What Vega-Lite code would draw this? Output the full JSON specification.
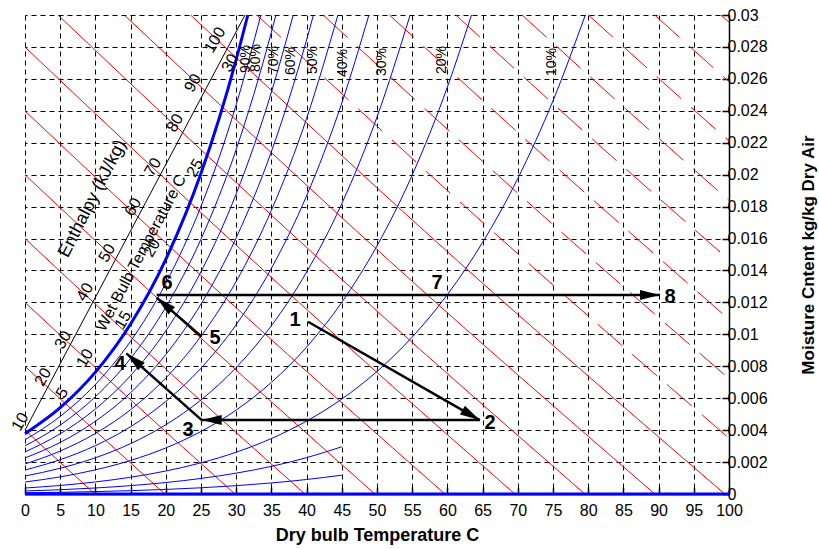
{
  "$schema": "https://vega.github.io/schema/vega-lite/v6.json",
  "width": 704,
  "height": 479,
  "autosize": {"type": "none"},
  "padding": {"left": 25, "top": 15, "right": 90, "bottom": 55},
  "background": "white",
  "config": {"view": {"stroke": null}, "font": "Liberation Sans"},
  "datasets": {
    "enth": [
      {"h": 10, "T": 0, "W": 0.003998}, {"h": 10, "T": 4.97, "W": 0.001992}, {"h": 10, "T": 9.94, "W": 0},
      {"h": 20, "T": 0, "W": 0.007997}, {"h": 20, "T": 9.94, "W": 0.003969}, {"h": 20, "T": 19.881, "W": 0},
      {"h": 30, "T": 0, "W": 0.011995}, {"h": 30, "T": 14.91, "W": 0.005932}, {"h": 30, "T": 29.821, "W": 0},
      {"h": 40, "T": 0, "W": 0.015994}, {"h": 40, "T": 19.88, "W": 0.00788}, {"h": 40, "T": 39.761, "W": 0},
      {"h": 50, "T": 0, "W": 0.019992}, {"h": 50, "T": 24.85, "W": 0.009815}, {"h": 50, "T": 49.702, "W": 0},
      {"h": 60, "T": 0, "W": 0.02399}, {"h": 60, "T": 29.82, "W": 0.011735}, {"h": 60, "T": 59.642, "W": 0},
      {"h": 70, "T": 0, "W": 0.027989}, {"h": 70, "T": 34.79, "W": 0.013642}, {"h": 70, "T": 69.583, "W": 0},
      {"h": 80, "T": 4.681, "W": 0.03}, {"h": 80, "T": 42.1, "W": 0.014597}, {"h": 80, "T": 79.523, "W": 0},
      {"h": 90, "T": 14.099, "W": 0.03}, {"h": 90, "T": 51.78, "W": 0.014596}, {"h": 90, "T": 89.463, "W": 0},
      {"h": 100, "T": 23.517, "W": 0.03}, {"h": 100, "T": 61.46, "W": 0.014595}, {"h": 100, "T": 99.404, "W": 0}
    ],
    "enth2": [
      {"h": 110, "T": 32.935, "W": 0.03}, {"h": 110, "T": 66.47, "W": 0.016433}, {"h": 110, "T": 100, "W": 0.003498},
      {"h": 120, "T": 42.353, "W": 0.03}, {"h": 120, "T": 71.18, "W": 0.018376}, {"h": 120, "T": 100, "W": 0.00722},
      {"h": 130, "T": 51.771, "W": 0.03}, {"h": 130, "T": 75.89, "W": 0.020305}, {"h": 130, "T": 100, "W": 0.010942},
      {"h": 140, "T": 61.189, "W": 0.03}, {"h": 140, "T": 80.59, "W": 0.02223}, {"h": 140, "T": 100, "W": 0.014663},
      {"h": 150, "T": 70.607, "W": 0.03}, {"h": 150, "T": 85.3, "W": 0.024134}, {"h": 150, "T": 100, "W": 0.018385},
      {"h": 160, "T": 80.025, "W": 0.03}, {"h": 160, "T": 90.01, "W": 0.026027}, {"h": 160, "T": 100, "W": 0.022107},
      {"h": 170, "T": 89.443, "W": 0.03}, {"h": 170, "T": 94.72, "W": 0.027906}, {"h": 170, "T": 100, "W": 0.025828},
      {"h": 180, "T": 98.861, "W": 0.03}, {"h": 180, "T": 100, "W": 0.02955}
    ],
    "rh": [
      {"phi": 90, "T": 0, "W": 0.003395}, {"phi": 90, "T": 5, "W": 0.004858}, {"phi": 90, "T": 10, "W": 0.00686}, {"phi": 90, "T": 15, "W": 0.009569}, {"phi": 90, "T": 20, "W": 0.013198}, {"phi": 90, "T": 25, "W": 0.01802}, {"phi": 90, "T": 30, "W": 0.024383}, {"phi": 90, "T": 33.5, "W": 0.03},
      {"phi": 80, "T": 0, "W": 0.003016}, {"phi": 80, "T": 5, "W": 0.004315}, {"phi": 80, "T": 10, "W": 0.006091}, {"phi": 80, "T": 15, "W": 0.008491}, {"phi": 80, "T": 20, "W": 0.011704}, {"phi": 80, "T": 25, "W": 0.015966}, {"phi": 80, "T": 30, "W": 0.02158}, {"phi": 80, "T": 35, "W": 0.028929}, {"phi": 80, "T": 35.64, "W": 0.03},
      {"phi": 70, "T": 0, "W": 0.002637}, {"phi": 70, "T": 5, "W": 0.003772}, {"phi": 70, "T": 10, "W": 0.005323}, {"phi": 70, "T": 15, "W": 0.007417}, {"phi": 70, "T": 20, "W": 0.010217}, {"phi": 70, "T": 25, "W": 0.013926}, {"phi": 70, "T": 30, "W": 0.018801}, {"phi": 70, "T": 35, "W": 0.025167}, {"phi": 70, "T": 38.1, "W": 0.03},
      {"phi": 60, "T": 0, "W": 0.002259}, {"phi": 60, "T": 5, "W": 0.00323}, {"phi": 60, "T": 10, "W": 0.004557}, {"phi": 60, "T": 15, "W": 0.006347}, {"phi": 60, "T": 20, "W": 0.008737}, {"phi": 60, "T": 25, "W": 0.011898}, {"phi": 60, "T": 30, "W": 0.016046}, {"phi": 60, "T": 35, "W": 0.021448}, {"phi": 60, "T": 40, "W": 0.028445}, {"phi": 60, "T": 40.97, "W": 0.03},
      {"phi": 50, "T": 0, "W": 0.001882}, {"phi": 50, "T": 5, "W": 0.00269}, {"phi": 50, "T": 10, "W": 0.003793}, {"phi": 50, "T": 15, "W": 0.00528}, {"phi": 50, "T": 20, "W": 0.007264}, {"phi": 50, "T": 25, "W": 0.009884}, {"phi": 50, "T": 30, "W": 0.013314}, {"phi": 50, "T": 35, "W": 0.017771}, {"phi": 50, "T": 40, "W": 0.023525}, {"phi": 50, "T": 44.45, "W": 0.03},
      {"phi": 40, "T": 0, "W": 0.001505}, {"phi": 40, "T": 5, "W": 0.00215}, {"phi": 40, "T": 10, "W": 0.003031}, {"phi": 40, "T": 15, "W": 0.004217}, {"phi": 40, "T": 20, "W": 0.005797}, {"phi": 40, "T": 25, "W": 0.007882}, {"phi": 40, "T": 30, "W": 0.010606}, {"phi": 40, "T": 35, "W": 0.014136}, {"phi": 40, "T": 40, "W": 0.018678}, {"phi": 40, "T": 45, "W": 0.024489}, {"phi": 40, "T": 48.85, "W": 0.03},
      {"phi": 30, "T": 0, "W": 0.001128}, {"phi": 30, "T": 5, "W": 0.001611}, {"phi": 30, "T": 10, "W": 0.00227}, {"phi": 30, "T": 15, "W": 0.003157}, {"phi": 30, "T": 20, "W": 0.004338}, {"phi": 30, "T": 25, "W": 0.005893}, {"phi": 30, "T": 30, "W": 0.007921}, {"phi": 30, "T": 35, "W": 0.010542}, {"phi": 30, "T": 40, "W": 0.013904}, {"phi": 30, "T": 45, "W": 0.018187}, {"phi": 30, "T": 50, "W": 0.023611}, {"phi": 30, "T": 54.71, "W": 0.03},
      {"phi": 20, "T": 0, "W": 0.000751}, {"phi": 20, "T": 5, "W": 0.001073}, {"phi": 20, "T": 10, "W": 0.001512}, {"phi": 20, "T": 15, "W": 0.002101}, {"phi": 20, "T": 20, "W": 0.002885}, {"phi": 20, "T": 25, "W": 0.003916}, {"phi": 20, "T": 30, "W": 0.005258}, {"phi": 20, "T": 35, "W": 0.006989}, {"phi": 20, "T": 40, "W": 0.009201}, {"phi": 20, "T": 45, "W": 0.012008}, {"phi": 20, "T": 50, "W": 0.015544}, {"phi": 20, "T": 55, "W": 0.019974}, {"phi": 20, "T": 60, "W": 0.025493}, {"phi": 20, "T": 63.42, "W": 0.03},
      {"phi": 10, "T": 0, "W": 0.000375}, {"phi": 10, "T": 5, "W": 0.000536}, {"phi": 10, "T": 10, "W": 0.000755}, {"phi": 10, "T": 15, "W": 0.001049}, {"phi": 10, "T": 20, "W": 0.001439}, {"phi": 10, "T": 25, "W": 0.001952}, {"phi": 10, "T": 30, "W": 0.002618}, {"phi": 10, "T": 35, "W": 0.003475}, {"phi": 10, "T": 40, "W": 0.004567}, {"phi": 10, "T": 45, "W": 0.005947}, {"phi": 10, "T": 50, "W": 0.007676}, {"phi": 10, "T": 55, "W": 0.009829}, {"phi": 10, "T": 60, "W": 0.012491}, {"phi": 10, "T": 65, "W": 0.015763}, {"phi": 10, "T": 70, "W": 0.019762}, {"phi": 10, "T": 75, "W": 0.024632}, {"phi": 10, "T": 79.59, "W": 0.03},
      {"phi": 5, "T": 0, "W": 0.000188}, {"phi": 5, "T": 5, "W": 0.000268}, {"phi": 5, "T": 10, "W": 0.000377}, {"phi": 5, "T": 15, "W": 0.000524}, {"phi": 5, "T": 20, "W": 0.000719}, {"phi": 5, "T": 25, "W": 0.000974}, {"phi": 5, "T": 30, "W": 0.001306}, {"phi": 5, "T": 35, "W": 0.001732}, {"phi": 5, "T": 40, "W": 0.002275}, {"phi": 5, "T": 45, "W": 0.002959},
      {"phi": 2, "T": 0, "W": 0.000075}, {"phi": 2, "T": 5, "W": 0.000107}, {"phi": 2, "T": 10, "W": 0.000151}, {"phi": 2, "T": 15, "W": 0.00021}, {"phi": 2, "T": 20, "W": 0.000287}, {"phi": 2, "T": 25, "W": 0.000389}, {"phi": 2, "T": 30, "W": 0.000521}, {"phi": 2, "T": 35, "W": 0.000692}, {"phi": 2, "T": 40, "W": 0.000908}, {"phi": 2, "T": 45, "W": 0.001179}
    ],
    "sat": [
      {"T": 0, "W": 0.003775}, {"T": 5, "W": 0.005403}, {"T": 10, "W": 0.007632}, {"T": 15, "W": 0.01065}, {"T": 20, "W": 0.014699}, {"T": 25, "W": 0.020087}, {"T": 30, "W": 0.027211}, {"T": 31.65, "W": 0.03}
    ],
    "dry": [{"T": 0, "W": 0}, {"T": 100, "W": 0}],
    "scale": [{"T": 0, "W": 0.004}, {"T": 31.25, "W": 0.03}],
    "process": [
      {"seg": "1-2", "T": 40.2, "W": 0.01079}, {"seg": "1-2", "T": 64.6, "W": 0.00463},
      {"seg": "2-3", "T": 64.6, "W": 0.00463}, {"seg": "2-3", "T": 25.1, "W": 0.00463},
      {"seg": "3-4", "T": 25.1, "W": 0.00463}, {"seg": "3-4", "T": 14.4, "W": 0.00881},
      {"seg": "5-6", "T": 25.1, "W": 0.00985}, {"seg": "5-6", "T": 18.7, "W": 0.0123},
      {"seg": "6-8", "T": 18.7, "W": 0.01246}, {"seg": "6-8", "T": 90.2, "W": 0.01246}
    ],
    "heads": [
      {"head": "2", "T": 64.6, "W": 0.00463},
      {"head": "3", "T": 25.1, "W": 0.00463},
      {"head": "4", "T": 14.4, "W": 0.00881},
      {"head": "6", "T": 18.7, "W": 0.0123},
      {"head": "8", "T": 90.2, "W": 0.01246}
    ],
    "pct": [
      {"txt": "90%", "T": 31.4, "W": 0.02724}, {"txt": "80%", "T": 32.8, "W": 0.02731}, {"txt": "70%", "T": 35.4, "W": 0.02718},
      {"txt": "60%", "T": 37.8, "W": 0.02712}, {"txt": "50%", "T": 40.9, "W": 0.02718}, {"txt": "40%", "T": 45.2, "W": 0.02699},
      {"txt": "30%", "T": 50.7, "W": 0.02706}, {"txt": "20%", "T": 59.2, "W": 0.02718}, {"txt": "10%", "T": 74.9, "W": 0.02706}
    ],
    "hlab": [
      {"txt": "10", "T": -0.7, "W": 0.004528}, {"txt": "20", "T": 2.56, "W": 0.007328}, {"txt": "30", "T": 5.4, "W": 0.009645},
      {"txt": "40", "T": 8.52, "W": 0.01265}, {"txt": "50", "T": 11.65, "W": 0.01509}, {"txt": "60", "T": 15.34, "W": 0.01797},
      {"txt": "70", "T": 18.18, "W": 0.02048}, {"txt": "80", "T": 21.31, "W": 0.02324}, {"txt": "90", "T": 23.86, "W": 0.02574},
      {"txt": "100", "T": 26.99, "W": 0.02843},
      {"txt": "5", "T": 5.26, "W": 0.00633}, {"txt": "10", "T": 8.52, "W": 0.00852}, {"txt": "15", "T": 13.92, "W": 0.0109},
      {"txt": "20", "T": 18.04, "W": 0.01541}, {"txt": "25", "T": 24.15, "W": 0.02042}, {"txt": "30", "T": 29.12, "W": 0.02699}
    ],
    "names": [
      {"txt": "Enthalpy (kJ/kg)", "T": 9.6, "W": 0.0185}
    ],
    "names2": [
      {"txt": "Wet Bulb Temperature C", "T": 16.48, "W": 0.01509}
    ],
    "points": [
      {"txt": "1", "T": 38.35, "W": 0.0109}, {"txt": "2", "T": 66.05, "W": 0.00445}, {"txt": "3", "T": 23.15, "W": 0.00401},
      {"txt": "4", "T": 13.49, "W": 0.00814}, {"txt": "5", "T": 26.99, "W": 0.00977}, {"txt": "6", "T": 20.17, "W": 0.01321},
      {"txt": "7", "T": 58.52, "W": 0.01321}, {"txt": "8", "T": 91.62, "W": 0.01234}
    ]
  },
  "encoding": {
    "x": {
      "field": "T", "type": "quantitative",
      "scale": {"domain": [0, 100], "nice": false, "zero": false},
      "axis": {
        "title": "Dry bulb Temperature C",
        "values": [0, 5, 10, 15, 20, 25, 30, 35, 40, 45, 50, 55, 60, 65, 70, 75, 80, 85, 90, 95, 100],
        "format": "d", "grid": true, "gridColor": "#000000", "gridDash": [5, 4], "gridOpacity": 1, "gridWidth": 1,
        "domainColor": "#000000", "domainWidth": 1.5, "tickColor": "#000000", "tickSize": -7, "tickWidth": 1.5,
        "labelFont": "Liberation Sans", "labelFontSize": 16, "labelColor": "#000000", "labelPadding": 15,
        "labelFlush": false, "labelOverlap": false,
        "titleFont": "Liberation Sans", "titleFontSize": 18, "titleFontWeight": "bold", "titleColor": "#000000", "titlePadding": 8
      }
    },
    "y": {
      "field": "W", "type": "quantitative",
      "scale": {"domain": [0, 0.03], "nice": false, "zero": false},
      "axis": {
        "orient": "right",
        "title": "Moisture Cntent kg/kg Dry Air",
        "values": [0, 0.002, 0.004, 0.006, 0.008, 0.01, 0.012, 0.014, 0.016, 0.018, 0.02, 0.022, 0.024, 0.026, 0.028, 0.03],
        "format": "~g", "grid": true, "gridColor": "#000000", "gridDash": [5, 4], "gridOpacity": 1, "gridWidth": 1,
        "domainColor": "#000000", "domainWidth": 1.5, "tickColor": "#000000", "tickSize": -7, "tickWidth": 1.5,
        "labelFont": "Liberation Sans", "labelFontSize": 16, "labelColor": "#000000", "labelPadding": 5,
        "labelFlush": false, "labelOverlap": false,
        "titleFont": "Liberation Sans", "titleFontSize": 17, "titleFontWeight": "bold", "titleColor": "#000000",
        "titleAngle": 270, "titlePadding": 50
      }
    }
  },
  "layer": [
    {"data": {"name": "enth"}, "mark": {"type": "line", "color": "#ff0000", "strokeWidth": 1, "interpolate": "monotone"}, "encoding": {"detail": {"field": "h"}}},
    {"data": {"name": "enth2"}, "mark": {"type": "line", "color": "#ff0000", "strokeWidth": 1, "interpolate": "monotone", "strokeDash": [33, 13]}, "encoding": {"detail": {"field": "h"}}},
    {"data": {"name": "rh"}, "mark": {"type": "line", "color": "#0000ff", "strokeWidth": 1, "interpolate": "monotone"}, "encoding": {"detail": {"field": "phi"}}},
    {"data": {"name": "sat"}, "mark": {"type": "line", "color": "#0000ff", "strokeWidth": 3, "interpolate": "monotone"}, "encoding": {}},
    {"data": {"name": "dry"}, "mark": {"type": "line", "color": "#0000ff", "strokeWidth": 3}, "encoding": {}},
    {"data": {"name": "scale"}, "mark": {"type": "line", "color": "#000000", "strokeWidth": 1}, "encoding": {}},
    {"data": {"name": "process"}, "mark": {"type": "line", "color": "#000000", "strokeWidth": 2.5}, "encoding": {"detail": {"field": "seg"}}},
    {"data": {"name": "heads"}, "transform": [{"filter": "datum.head == '2'"}], "mark": {"type": "point", "shape": "M0,0L-2,-0.5L-2,0.5Z", "size": 400, "filled": true, "color": "#000000", "opacity": 1, "angle": 29.7}},
    {"data": {"name": "heads"}, "transform": [{"filter": "datum.head == '3'"}], "mark": {"type": "point", "shape": "M0,0L-2,-0.5L-2,0.5Z", "size": 400, "filled": true, "color": "#000000", "opacity": 1, "angle": 180}},
    {"data": {"name": "heads"}, "transform": [{"filter": "datum.head == '4' || datum.head == '6'"}], "mark": {"type": "point", "shape": "M0,0L-2,-0.5L-2,0.5Z", "size": 400, "filled": true, "color": "#000000", "opacity": 1, "angle": 221}},
    {"data": {"name": "heads"}, "transform": [{"filter": "datum.head == '8'"}], "mark": {"type": "point", "shape": "M0,0L-2,-0.5L-2,0.5Z", "size": 400, "filled": true, "color": "#000000", "opacity": 1, "angle": 0}},
    {"data": {"name": "pct"}, "mark": {"type": "text", "angle": -90, "fontSize": 14, "font": "Liberation Sans", "color": "#000000", "align": "center", "baseline": "middle"}, "encoding": {"text": {"field": "txt"}}},
    {"data": {"name": "hlab"}, "mark": {"type": "text", "angle": -60, "fontSize": 16, "font": "Liberation Sans", "color": "#000000", "align": "center", "baseline": "middle"}, "encoding": {"text": {"field": "txt"}}},
    {"data": {"name": "names"}, "mark": {"type": "text", "angle": -63, "fontSize": 18, "font": "Liberation Sans", "color": "#000000", "align": "center", "baseline": "middle"}, "encoding": {"text": {"field": "txt"}}},
    {"data": {"name": "names2"}, "mark": {"type": "text", "angle": -62, "fontSize": 16, "font": "Liberation Sans", "color": "#000000", "align": "center", "baseline": "middle"}, "encoding": {"text": {"field": "txt"}}},
    {"data": {"name": "points"}, "mark": {"type": "text", "fontSize": 20, "fontWeight": "bold", "font": "Liberation Sans", "color": "#000000", "align": "center", "baseline": "middle"}, "encoding": {"text": {"field": "txt"}}}
  ]
}
